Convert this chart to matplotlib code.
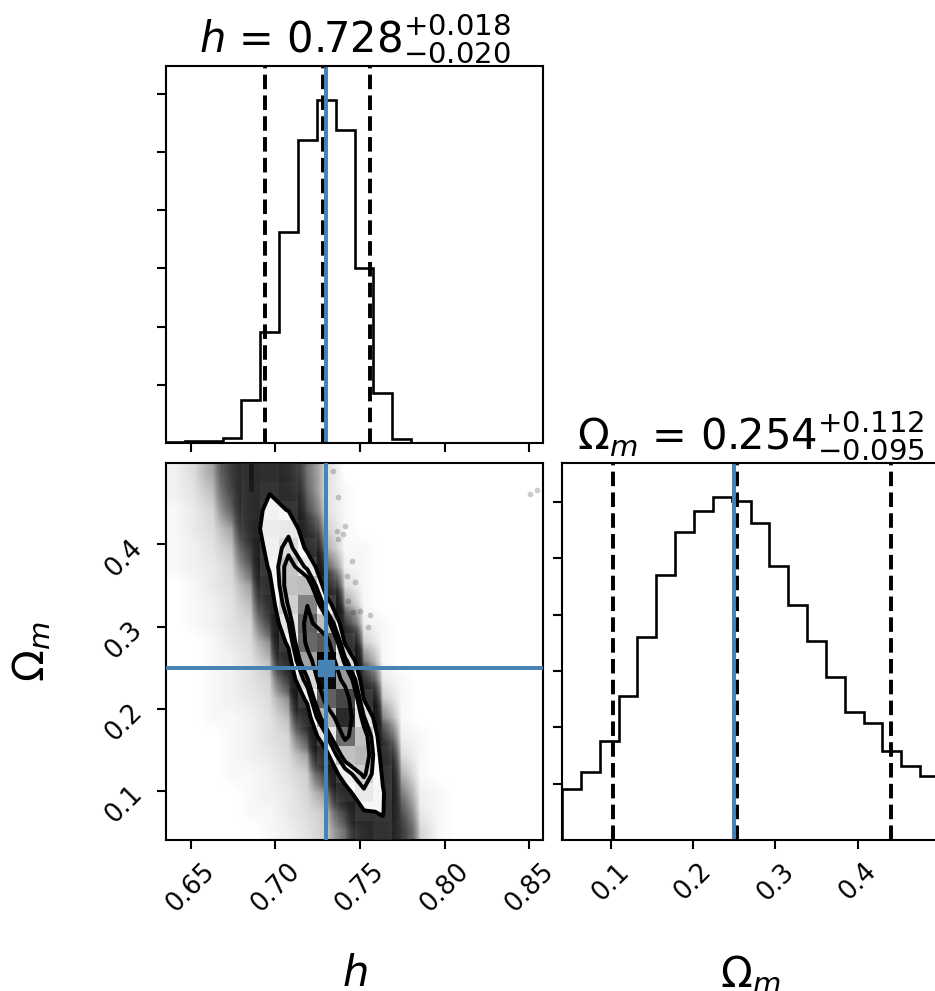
import numpy as np
import matplotlib
matplotlib.use("Agg")
import matplotlib.pyplot as plt
from matplotlib.colors import LinearSegmentedColormap, FuncNorm

# ---------------------------------------------------------------- data
h_range = (0.6354, 0.8581)
om_range = (0.0404, 0.4990)
n_bins = 20

h_label = r"$h$"
om_label = r"$\Omega_m$"

h_truth = 0.73
om_truth = 0.25

h_quantiles = [0.694, 0.728, 0.756]
om_quantiles = [0.102, 0.253, 0.441]

h_title = r"$h$ = $0.728_{-0.020}^{+0.018}$"
om_title = r"$\Omega_m$ = $0.254_{-0.095}^{+0.112}$"

# 1-D marginal histograms (20 bins each)
h_counts = [11, 40, 29, 86, 733, 1907, 3625, 5212, 5887, 5372,
            3007, 865, 74, 0, 0, 0, 0, 0, 0, 0]
om_counts = [900, 1214, 1759, 2565, 3596, 4710, 5468, 5847, 6084, 6013,
             5628, 4870, 4177, 3537, 2885, 2281, 2073, 1582, 1321, 1137]

hist_ticks = [1000, 2000, 3000, 4000, 5000, 6000]
h_ticks = [0.65, 0.70, 0.75, 0.80, 0.85]
h_ticklabels = ["0.65", "0.70", "0.75", "0.80", "0.85"]
om_ticks = [0.1, 0.2, 0.3, 0.4]
om_ticklabels = ["0.1", "0.2", "0.3", "0.4"]

# joint 2-D histogram: rows = Omega_m bins (low -> high), columns = h bins
joint_counts = np.array([
    [0, 0, 0, 0, 0, 1, 2, 4, 7, 29, 101, 165, 63, 6, 1, 0, 0, 0, 0, 0],
    [0, 0, 0, 0, 1, 1, 3, 5, 8, 55, 176, 191, 42, 3, 1, 0, 0, 0, 0, 0],
    [0, 0, 0, 0, 1, 2, 3, 6, 18, 122, 297, 196, 25, 2, 1, 0, 0, 0, 0, 0],
    [0, 0, 0, 1, 1, 2, 4, 7, 55, 262, 446, 168, 12, 1, 0, 0, 0, 0, 0, 0],
    [0, 0, 0, 1, 2, 3, 5, 15, 137, 497, 541, 114, 5, 1, 0, 0, 0, 0, 0, 0],
    [0, 0, 0, 1, 2, 4, 6, 46, 308, 774, 503, 59, 2, 1, 0, 0, 0, 0, 0, 0],
    [0, 0, 1, 1, 2, 4, 10, 107, 555, 932, 339, 22, 1, 0, 0, 0, 0, 0, 0, 0],
    [0, 0, 1, 2, 3, 5, 20, 217, 805, 867, 177, 8, 1, 0, 0, 0, 0, 0, 0, 0],
    [0, 0, 1, 2, 4, 6, 57, 399, 999, 640, 73, 3, 1, 0, 0, 0, 0, 0, 0, 0],
    [0, 0, 1, 2, 4, 10, 118, 616, 1022, 366, 24, 1, 0, 0, 0, 0, 0, 0, 0, 0],
    [0, 0, 1, 3, 5, 20, 217, 786, 823, 162, 7, 1, 0, 0, 0, 0, 0, 0, 0, 0],
    [0, 1, 2, 4, 6, 50, 327, 805, 507, 57, 2, 1, 0, 0, 0, 0, 0, 0, 0, 0],
    [0, 1, 2, 4, 10, 88, 437, 713, 251, 16, 1, 0, 0, 0, 0, 0, 0, 0, 0, 0],
    [0, 1, 3, 5, 16, 144, 502, 517, 101, 5, 1, 0, 0, 0, 0, 0, 0, 0, 0, 0],
    [1, 2, 3, 6, 36, 203, 484, 299, 34, 2, 1, 0, 0, 0, 0, 0, 0, 0, 0, 0],
    [1, 2, 4, 9, 61, 242, 378, 149, 13, 1, 1, 0, 0, 0, 0, 0, 0, 0, 0, 0],
    [1, 3, 5, 15, 97, 276, 297, 83, 7, 1, 0, 0, 0, 0, 0, 0, 0, 0, 0, 0],
    [1, 3, 6, 34, 116, 225, 180, 45, 4, 1, 0, 0, 0, 0, 0, 0, 0, 0, 0, 0],
    [2, 4, 10, 50, 122, 178, 120, 32, 4, 1, 0, 0, 0, 0, 0, 0, 0, 0, 0, 0],
    [2, 5, 15, 61, 112, 138, 88, 28, 5, 0, 0, 0, 0, 0, 0, 0, 0, 0, 0, 0],
], dtype=float)

# density levels of the four credible contours (2, 1.5, 1, 0.5 sigma)
contour_levels = [185, 330, 420, 720]

# a walker stuck near the upper Omega_m prior edge
stuck_chain_h = [0.6856, 0.6856]
stuck_chain_om = [0.465, 0.499]

# isolated samples away from the main ridge
sparse_h = [0.8504, 0.8548, 0.7342, 0.7372, 0.7411, 0.7362, 0.7398, 0.7372,
            0.7451, 0.7421, 0.7470, 0.7431, 0.7500, 0.7559, 0.7549, 0.7460]
sparse_om = [0.4616, 0.4665, 0.4889, 0.4573, 0.4227, 0.4159, 0.4130, 0.4066,
             0.3794, 0.3612, 0.3539, 0.3308, 0.3186, 0.3145, 0.2992, 0.3174]

# ---------------------------------------------------------------- style
S = 1.885                      # scale of the original point sizes
truth_color = "#4682b4"
tick_fs = 18.5
title_fs = 30
label_fs = 30

plt.rcParams.update({
    "font.family": ["DejaVu Sans"],
    "mathtext.fontset": "dejavusans",
    "axes.linewidth": 0.8 * S,
    "xtick.major.size": 3.5 * S, "ytick.major.size": 3.5 * S,
    "xtick.major.width": 0.8 * S, "ytick.major.width": 0.8 * S,
    "xtick.major.pad": 3.5 * S, "ytick.major.pad": 3.5 * S,
    "xtick.labelsize": tick_fs, "ytick.labelsize": tick_fs,
})

W, Hpx = 935, 991
fig = plt.figure(figsize=(W / 100, Hpx / 100), dpi=100)


def frac_box(left, top, size=377):
    return [left / W, 1 - (top + size) / Hpx, size / W, size / Hpx]


ax_h = fig.add_axes(frac_box(166, 66))
ax_2d = fig.add_axes(frac_box(166, 463))
ax_om = fig.add_axes(frac_box(562, 463))

h_edges = np.linspace(h_range[0], h_range[1], n_bins + 1)
om_edges = np.linspace(om_range[0], om_range[1], n_bins + 1)


def marginal(ax, edges, counts, quants, truth, rng, title):
    ax.stairs(counts, edges, color="k", lw=1.0 * S)
    for q in quants:
        ax.axvline(q, ls="dashed", color="k", lw=1.5 * S)
    ax.axvline(truth, color=truth_color, lw=1.5 * S)
    ax.set_xlim(rng)
    ax.set_ylim(0, 1.1 * max(counts))
    ax.set_yticks(hist_ticks)
    ax.set_yticklabels([])
    ax.set_title(title, fontsize=title_fs, pad=3)


marginal(ax_h, h_edges, h_counts, h_quantiles, h_truth, h_range, h_title)
ax_h.set_xticks(h_ticks)
ax_h.set_xticklabels([])

marginal(ax_om, om_edges, om_counts, om_quantiles, om_truth, om_range, om_title)
ax_om.set_xticks(om_ticks)
ax_om.set_xticklabels(om_ticklabels, rotation=45)
ax_om.set_xlabel(om_label, fontsize=label_fs)
ax_om.xaxis.set_label_coords(0.5, -0.3)

# ---------------------------------------------------------------- joint panel
Hj = joint_counts
Hmax = Hj.max()

# sample cloud: opacity builds up with the local sample density
haze_scale = 30.0
haze_cmap = LinearSegmentedColormap.from_list(
    "haze", [(0, 0, 0, 0.0), (0, 0, 0, 0.93)])
haze_norm = FuncNorm((lambda v: 1 - np.exp(-np.asarray(v) / haze_scale),
                      lambda u: -haze_scale * np.log(1 - np.asarray(u))),
                     vmin=0, vmax=Hmax)
ax_2d.imshow(Hj, origin="lower", aspect="auto",
             extent=[h_range[0], h_range[1], om_range[0], om_range[1]],
             cmap=haze_cmap, norm=haze_norm, interpolation="bilinear",
             interpolation_stage="data", zorder=0)
ax_2d.plot(sparse_h, sparse_om, "o", color="k", ms=2.2 * S, mec="none",
           alpha=0.2, zorder=1)
ax_2d.plot(stuck_chain_h, stuck_chain_om, color="k", lw=3.3,
           solid_capstyle="butt", zorder=1)

# padded grid on bin centres for the contours
xc = 0.5 * (h_edges[1:] + h_edges[:-1])
yc = 0.5 * (om_edges[1:] + om_edges[:-1])
dx, dy = xc[1] - xc[0], yc[1] - yc[0]
X2 = np.concatenate([xc[0] + np.array([-2, -1]) * dx, xc,
                     xc[-1] + np.array([1, 2]) * dx])
Y2 = np.concatenate([yc[0] + np.array([-2, -1]) * dy, yc,
                     yc[-1] + np.array([1, 2]) * dy])
H2 = Hj.min() + np.zeros((n_bins + 4, n_bins + 4))
H2[2:-2, 2:-2] = Hj
H2[2:-2, 1] = Hj[:, 0]
H2[2:-2, -2] = Hj[:, -1]
H2[1, 2:-2] = Hj[0]
H2[-2, 2:-2] = Hj[-1]
H2[1, 1] = Hj[0, 0]
H2[1, -2] = Hj[0, -1]
H2[-2, 1] = Hj[-1, 0]
H2[-2, -2] = Hj[-1, -1]

ax_2d.contourf(X2, Y2, H2, [min(contour_levels), Hmax * 1.01],
               colors="white", antialiased=False, zorder=2)
density_cmap = LinearSegmentedColormap.from_list(
    "density", [(0, 0, 0, 1), (1, 1, 1, 0)])
ax_2d.pcolormesh(h_edges, om_edges, Hmax - Hj, cmap=density_cmap, zorder=3)
ax_2d.contour(X2, Y2, H2, contour_levels, colors="k",
              linewidths=1.5 * S, zorder=4)

ax_2d.axvline(h_truth, color=truth_color, lw=1.5 * S, zorder=5)
ax_2d.axhline(om_truth, color=truth_color, lw=1.5 * S, zorder=5)
ax_2d.plot([h_truth], [om_truth], "s", color=truth_color, ms=6 * S, zorder=6)

ax_2d.set_xlim(h_range)
ax_2d.set_ylim(om_range)
ax_2d.set_xticks(h_ticks)
ax_2d.set_xticklabels(h_ticklabels, rotation=45)
ax_2d.set_yticks(om_ticks)
ax_2d.set_yticklabels(om_ticklabels, rotation=45)
ax_2d.set_xlabel(h_label, fontsize=label_fs)
ax_2d.set_ylabel(om_label, fontsize=label_fs)
ax_2d.xaxis.set_label_coords(0.5, -0.3)
ax_2d.yaxis.set_label_coords(-0.3, 0.5)

fig.savefig("out.png", dpi=100)
